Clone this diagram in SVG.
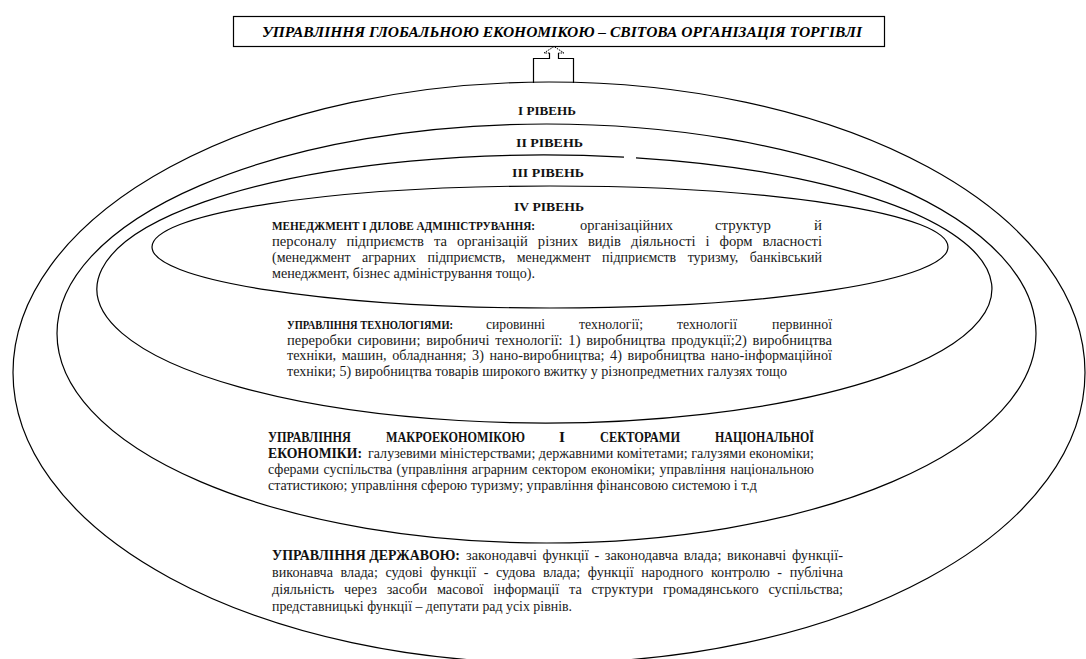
<svg xmlns="http://www.w3.org/2000/svg" width="1086" height="659" viewBox="0 0 1086 659" font-family="Liberation Serif, Times New Roman, DejaVu Serif, serif">
  <style>
    .ring { fill: none; stroke: #000; stroke-width: 1.2; }
    .box { fill: #fff; stroke: #000; stroke-width: 1.2; }
    .arrow { fill: none; stroke: #000; stroke-width: 1.2; }
    .arrowhead { fill: none; stroke: #000; stroke-width: 1; stroke-dasharray: 1.6 1; }
    .title { font-size: 14.5px; font-weight: bold; font-style: italic; fill: #000; }
    .lvl { font-size: 13.5px; font-weight: bold; fill: #111; }
    .h { font-size: 14.5px; font-weight: bold; fill: #111; }
    .hs { font-size: 12px; font-weight: bold; fill: #111; }
    .b { font-size: 14px; fill: #1a1a1a; }
  </style>

  <rect width="1086" height="659" fill="#fff"/>

  <!-- top node: global economy governance -->
  <g id="node-global">
    <rect class="box" x="233.5" y="16.5" width="651" height="30"/>
    <text class="title" x="262" y="36.5" textLength="600" lengthAdjust="spacingAndGlyphs">УПРАВЛІННЯ ГЛОБАЛЬНОЮ ЕКОНОМІКОЮ – СВІТОВА ОРГАНІЗАЦІЯ ТОРГІВЛІ</text>
  </g>

  <!-- nested level rings (outer = I level) -->
  <g id="level-rings">
    <ellipse class="ring" cx="549" cy="372.5" rx="536" ry="290.5"/>
    <ellipse class="ring" cx="546.5" cy="333.5" rx="489.5" ry="209.5"/>
    <!-- III ring has a small break in its top edge -->
    <path class="ring" d="M624,157.1 A447.5,134 0 1 0 636,157.8"/>
    <ellipse class="ring" cx="550" cy="247" rx="398" ry="61"/>
  </g>

  <!-- block arrow from the outer ring up to the top node -->
  <g id="connectors">
    <path class="arrow" d="M533.5,83 V58.5 H549.5 V53 M558.5,53 V58.5 H573.5 V83"/>
    <path class="arrowhead" d="M549.5,53 H544 L554,46.5 L564,53 H558.5"/>
  </g>

  <!-- level captions -->
  <g id="level-labels">
    <text class="lvl" x="518" y="114.5" textLength="58" lengthAdjust="spacingAndGlyphs">I РІВЕНЬ</text>
    <text class="lvl" x="516" y="146.5" textLength="67" lengthAdjust="spacingAndGlyphs">II РІВЕНЬ</text>
    <text class="lvl" x="512" y="176.5" textLength="72" lengthAdjust="spacingAndGlyphs">III РІВЕНЬ</text>
    <text class="lvl" x="514" y="210.5" textLength="70" lengthAdjust="spacingAndGlyphs">IV РІВЕНЬ</text>
  </g>

  <!-- IV level: management and business administration -->
  <g id="node-management">
    <text class="hs" x="272" y="229.5" textLength="263" lengthAdjust="spacingAndGlyphs">МЕНЕДЖМЕНТ І ДІЛОВЕ АДМІНІСТРУВАННЯ:</text>
    <!-- justified first line: words placed one by one -->
    <text class="b" x="580" y="229.5" textLength="93" lengthAdjust="spacingAndGlyphs">організаційних</text>
    <text class="b" x="715" y="229.5" textLength="56" lengthAdjust="spacingAndGlyphs">структур</text>
    <text class="b" x="814" y="229.5" textLength="8" lengthAdjust="spacingAndGlyphs">й</text>
    <text class="b" x="272" y="245.5" textLength="550" word-spacing="6" lengthAdjust="spacingAndGlyphs">персоналу підприємств та організацій різних видів діяльності і форм власності</text>
    <text class="b" x="272" y="261.5" textLength="550" word-spacing="8" lengthAdjust="spacingAndGlyphs">(менеджмент аграрних підприємств, менеджмент підприємств туризму, банківський</text>
    <text class="b" x="272" y="277.5" textLength="263" lengthAdjust="spacingAndGlyphs">менеджмент, бізнес адміністрування тощо).</text>
  </g>

  <!-- III level: technology management -->
  <g id="node-technology">
    <text class="hs" x="287" y="329" textLength="166" style="font-size:11.5px" lengthAdjust="spacingAndGlyphs">УПРАВЛІННЯ ТЕХНОЛОГІЯМИ:</text>
    <text class="b" x="486" y="329" textLength="59" lengthAdjust="spacingAndGlyphs">сировинні</text>
    <text class="b" x="579" y="329" textLength="64" lengthAdjust="spacingAndGlyphs">технології;</text>
    <text class="b" x="677" y="329" textLength="60" lengthAdjust="spacingAndGlyphs">технології</text>
    <text class="b" x="772" y="329" textLength="60" lengthAdjust="spacingAndGlyphs">первинної</text>
    <text class="b" x="287" y="344.5" textLength="545" word-spacing="2" lengthAdjust="spacingAndGlyphs">переробки сировини; виробничі  технології: 1) виробництва продукції;2) виробництва</text>
    <text class="b" x="287" y="360" textLength="545" word-spacing="2" lengthAdjust="spacingAndGlyphs">техніки, машин, обладнання; 3) нано-виробництва; 4) виробництва нано-інформаційної</text>
    <text class="b" x="287" y="375.5" textLength="500" lengthAdjust="spacingAndGlyphs">техніки; 5) виробництва товарів широкого вжитку у різнопредметних галузях тощо</text>
  </g>

  <!-- II level: macroeconomy and sectors of the national economy -->
  <g id="node-macroeconomy">
    <text class="h" x="268" y="441.5" textLength="83" lengthAdjust="spacingAndGlyphs">УПРАВЛІННЯ</text>
    <text class="h" x="386" y="441.5" textLength="139" lengthAdjust="spacingAndGlyphs">МАКРОЕКОНОМІКОЮ</text>
    <text class="h" x="559" y="441.5" textLength="6" lengthAdjust="spacingAndGlyphs">І</text>
    <text class="h" x="600" y="441.5" textLength="80" lengthAdjust="spacingAndGlyphs">СЕКТОРАМИ</text>
    <text class="h" x="715" y="441.5" textLength="99" lengthAdjust="spacingAndGlyphs">НАЦІОНАЛЬНОЇ</text>
    <text class="h" x="268" y="457.5" textLength="94" lengthAdjust="spacingAndGlyphs">ЕКОНОМІКИ:</text>
    <text class="b" x="368" y="457.5" textLength="446" lengthAdjust="spacingAndGlyphs">галузевими міністерствами; державними комітетами; галузями економіки;</text>
    <text class="b" x="268" y="473.5" textLength="546" word-spacing="1" lengthAdjust="spacingAndGlyphs">сферами суспільства (управління аграрним сектором економіки; управління національною</text>
    <text class="b" x="268" y="489.5" textLength="489" lengthAdjust="spacingAndGlyphs">статистикою; управління сферою туризму; управління фінансовою системою  і т.д</text>
  </g>

  <!-- I level: state governance -->
  <g id="node-state">
    <text class="h" x="272" y="560" textLength="188" lengthAdjust="spacingAndGlyphs">УПРАВЛІННЯ ДЕРЖАВОЮ:</text>
    <text class="b" x="466" y="560" textLength="377" word-spacing="2" lengthAdjust="spacingAndGlyphs">законодавчі функції - законодавча влада; виконавчі функції-</text>
    <text class="b" x="272" y="577" textLength="571" word-spacing="4" lengthAdjust="spacingAndGlyphs">виконавча влада; судові функції - судова влада; функції народного контролю - публічна</text>
    <text class="b" x="272" y="594" textLength="571" word-spacing="6" lengthAdjust="spacingAndGlyphs">діяльність через засоби масової інформації та структури громадянського суспільства;</text>
    <text class="b" x="272" y="611" textLength="300" lengthAdjust="spacingAndGlyphs">представницькі функції – депутати рад усіх рівнів.</text>
  </g>
</svg>
